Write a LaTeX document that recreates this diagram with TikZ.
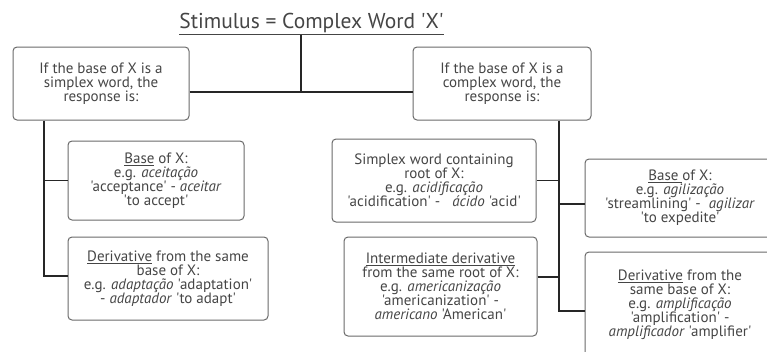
\documentclass[tikz,border=0pt]{standalone}
\usepackage{fontspec}
\setmainfont{PT Sans}[Ligatures=TeXOff]
\usetikzlibrary{positioning,calc}
\definecolor{txtgray}{HTML}{454545}
\definecolor{boxgray}{HTML}{6A6A6A}

\begin{document}
\begin{tikzpicture}[x=1pt, y=-1pt,
    casebox/.style={draw=boxgray, line width=1pt, rounded corners=4pt, align=center,
        text=txtgray, inner sep=0pt, font=\fontsize{15}{14}\selectfont},
    link/.style={draw=black!85, line width=1.3pt}]
    \clip (0,0) rectangle (767,351);

    \node[text=txtgray, inner sep=0pt, anchor=base, font=\fontsize{21.5}{23}\selectfont]
        (stim) at (311.5,28) {\underline{Stimulus = Complex Word 'X'}};

    \node[casebox, minimum width=176, minimum height=73] (lcase) at (101,83.5)
        {If the base of X is a\\simplex word, the\\response is:};
    \node[casebox, minimum width=178, minimum height=73] (rcase) at (502,83.5)
        {If the base of X is a\\complex word, the\\response is:};

    \node[casebox, minimum width=176, minimum height=79] (baseL) at (156,180.5)
        {\underline{Base} of X:\\e.g. \textit{aceitação}\\'acceptance' - \textit{aceitar}\\'to accept'};
    \node[casebox, minimum width=200, minimum height=83] (derivL) at (168,278.5)
        {\underline{Derivative} from the same\\base of X:\\e.g. \textit{adaptação} 'adaptation'\\- \textit{adaptador} 'to adapt'};

    \node[casebox, minimum width=204, minimum height=83] (simpC) at (434,180.5)
        {Simplex word containing\\root of X:\\e.g. \textit{acidificação}\\'acidification' - \ \ \textit{ácido} 'acid'};
    \node[casebox, minimum width=193, minimum height=99] (interD) at (440.5,286.5)
        {\underline{Intermediate derivative}\\from the same root of X:\\e.g. \textit{americanização}\\'americanization' -\\\textit{americano} 'American'};

    \node[casebox, minimum width=190, minimum height=78] (baseR) at (680,198)
        {\underline{Base }of X:\\e.g. \textit{agilização}\\'streamlining' - \ \textit{agilizar}\\'to expedite'};
    \node[casebox, minimum width=190, minimum height=106] (derivR) at (680,305)
        {\underline{Derivative} from the\\same base of X:\\e.g. \textit{amplificação}\\'amplification' -\\\textit{amplificador} 'amplifier'};

    \coordinate (hub) at (301,92);
    \coordinate (lfoot) at (44,276);
    \coordinate (rfoot) at (559,311);

    \draw[link] (stim.south -| hub) -- (hub);
    \draw[link] (lcase.east |- hub) -- (rcase.west |- hub);

    \draw[link] (lcase.south -| lfoot) -- (lfoot) -- (lfoot -| derivL.west);
    \draw[link] (lfoot |- baseL.west) -- (baseL.west);

    \draw[link] (rcase.south -| rfoot) -- (rfoot) -- (rfoot -| derivR.west);
    \draw[link] (simpC.east) -- (simpC.east -| rfoot);
    \draw[link] ([yshift=-6pt]baseR.west) -- ([yshift=-6pt]baseR.west -| rfoot);
    \draw[link] ([yshift=9.5pt]interD.east) -- ([yshift=9.5pt]interD.east -| rfoot);
\end{tikzpicture}
\end{document}
